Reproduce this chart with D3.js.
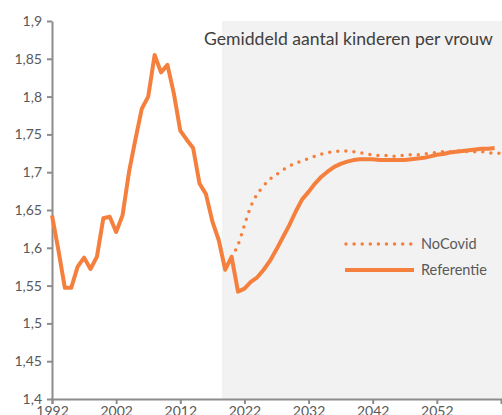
<!DOCTYPE html>
<html>
<head>
<meta charset="utf-8">
<script src="https://cdn.jsdelivr.net/npm/d3@7"></script>
<style>
  body { margin: 0; background: #fff; }
  svg { display: block; }
  text { font-family: Lato, "Open Sans", sans-serif; }
</style>
</head>
<body>
<div id="chart"></div>
<script>
// chart data
var startYear = 1992;
var endYear = 2062;
var projectionStart = 2018.5;

var referentieYears = d3.range(1992, 2062);
var referentie = [
    1.643, 1.597, 1.547, 1.547, 1.575, 1.587, 1.572, 1.588, 1.639, 1.641,
    1.621, 1.643, 1.700, 1.743, 1.784, 1.800, 1.855, 1.832, 1.842, 1.804,
    1.755, 1.743, 1.732, 1.685, 1.671, 1.635, 1.610, 1.571, 1.588, 1.542,
    1.546, 1.555, 1.561, 1.571, 1.583, 1.598, 1.614, 1.630, 1.648, 1.664,
    1.674, 1.685, 1.694, 1.701, 1.707, 1.711, 1.714, 1.716, 1.717, 1.717,
    1.717, 1.716, 1.716, 1.716, 1.716, 1.716, 1.717, 1.718, 1.719, 1.721,
    1.723, 1.724, 1.726, 1.727, 1.728, 1.729, 1.730, 1.731, 1.731, 1.732
];

var noCovidYears = d3.range(2020, 2063);
var noCovid = [
    1.588, 1.604, 1.630, 1.655, 1.671, 1.682, 1.691, 1.697, 1.703, 1.708,
    1.712, 1.715, 1.718, 1.721, 1.724, 1.726, 1.727, 1.728, 1.728, 1.727,
    1.726, 1.724, 1.723, 1.722, 1.722, 1.721, 1.722, 1.722, 1.723, 1.723,
    1.724, 1.725, 1.726, 1.727, 1.727, 1.728, 1.728, 1.727, 1.727, 1.727,
    1.726, 1.725, 1.725
];

var xTicks = [1992, 2002, 2012, 2022, 2032, 2042, 2052];
var yTicks = [1.4, 1.45, 1.5, 1.55, 1.6, 1.65, 1.7, 1.75, 1.8, 1.85, 1.9];

var title = "Gemiddeld aantal kinderen per vrouw";
var legendLabels = ["NoCovid", "Referentie"];

// set up our chart
var svgWidth = 502;
var svgHeight = 415;
var margin = { top: 21, left: 52, right: 1, bottom: 16 };
var width = svgWidth - margin.left - margin.right;
var height = svgHeight - margin.top - margin.bottom;

var orange = "#f5803e";
var axisColor = "#8c8c8c";
var labelColor = "#595959";

var svg = d3.select("#chart")
    .append("svg")
    .attr("width", svgWidth)
    .attr("height", svgHeight);

var chartGroup = svg.append("g")
    .attr("transform", `translate(${margin.left}, ${margin.top})`);

// scales
var x = d3.scaleLinear()
    .domain([startYear, endYear])
    .range([0, width]);

var y = d3.scaleLinear()
    .domain([1.4, 1.9])
    .range([height, 0]);

// grey projection area
chartGroup.append("rect")
    .attr("x", x(projectionStart))
    .attr("y", y(1.9))
    .attr("width", svgWidth - margin.left - x(projectionStart))
    .attr("height", y(1.4) - y(1.9))
    .attr("fill", "#f2f2f2");

// comma as decimal separator
var nl = d3.formatLocale({ decimal: ",", thousands: ".", grouping: [3], currency: ["€", ""] });
var yFormat = nl.format(".2~f");

// axes
var leftAxis = d3.axisLeft(y)
    .tickValues(yTicks)
    .tickFormat(yFormat)
    .tickSize(5)
    .tickSizeOuter(0)
    .tickPadding(5);

var bottomAxis = d3.axisBottom(x)
    .tickValues(xTicks)
    .tickFormat(d3.format("d"))
    .tickSize(5)
    .tickSizeOuter(5)
    .tickPadding(2);

var yAxis = chartGroup.append("g")
    .call(leftAxis);

var xAxis = chartGroup.append("g")
    .attr("transform", `translate(0, ${height})`)
    .call(bottomAxis);

[xAxis, yAxis].forEach(function(ax) {
    ax.select(".domain").attr("stroke", axisColor).attr("stroke-width", 2);
    ax.selectAll(".tick line").attr("stroke", axisColor).attr("stroke-width", 2);
    ax.selectAll(".tick text")
        .attr("fill", labelColor)
        .style("font-size", "14px");
});

// lines
var refLine = d3.line()
    .x((d, i) => x(referentieYears[i]))
    .y(d => y(d));

var noCovidLine = d3.line()
    .x((d, i) => x(noCovidYears[i]))
    .y(d => y(d))
    .curve(d3.curveMonotoneX);

chartGroup.append("path")
    .datum(noCovid)
    .attr("d", noCovidLine)
    .attr("fill", "none")
    .attr("stroke", orange)
    .attr("stroke-width", 3.5)
    .attr("stroke-linecap", "round")
    .attr("stroke-dasharray", "0 8.1");

chartGroup.append("path")
    .datum(referentie)
    .attr("d", refLine)
    .attr("fill", "none")
    .attr("stroke", orange)
    .attr("stroke-width", 4)
    .attr("stroke-linejoin", "round");

// title
svg.append("text")
    .attr("x", 204)
    .attr("y", 45)
    .attr("fill", "#404040")
    .style("font-size", "17.6px")
    .text(title);

// legend
var legend = svg.append("g")
    .attr("transform", "translate(345, 244)");

legend.append("line")
    .attr("x1", 1).attr("x2", 66)
    .attr("y1", 0).attr("y2", 0)
    .attr("stroke", orange)
    .attr("stroke-width", 3.5)
    .attr("stroke-linecap", "round")
    .attr("stroke-dasharray", "0 8.1");

legend.append("line")
    .attr("x1", 0).attr("x2", 69)
    .attr("y1", 26).attr("y2", 26)
    .attr("stroke", orange)
    .attr("stroke-width", 4);

legend.selectAll("text.leg")
    .data(legendLabels)
    .enter()
    .append("text")
    .attr("class", "leg")
    .attr("x", 76)
    .attr("y", (d, i) => i * 26)
    .attr("dy", "0.35em")
    .attr("fill", labelColor)
    .style("font-size", "14.5px")
    .text(d => d);
</script>
</body>
</html>
